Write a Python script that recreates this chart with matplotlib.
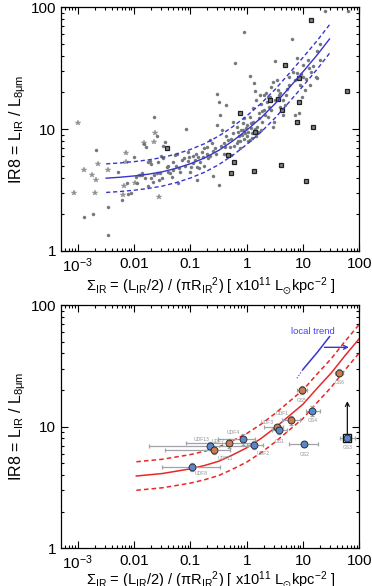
import numpy as np
import matplotlib
matplotlib.use('Agg')
import matplotlib.pyplot as plt
from matplotlib.ticker import LogLocator, NullFormatter, FixedLocator, FixedFormatter

plt.rcParams['font.family'] = ['Liberation Sans', 'DejaVu Sans']
plt.rcParams['mathtext.fontset'] = 'custom'
plt.rcParams['mathtext.rm'] = 'Liberation Sans'
plt.rcParams['mathtext.it'] = 'Liberation Sans'
plt.rcParams['mathtext.bf'] = 'Liberation Sans:bold'
plt.rcParams['mathtext.sf'] = 'Liberation Sans'
plt.rcParams['mathtext.default'] = 'regular'

# ---------------- top panel data (log10 values) -------------
dots_logsigma = [-2.67,-2.89,-2.72,-2.47,-2.47,-2.28,-2.0,-2.22,-2.13,-2.10,-2.06,-1.95,-1.92,-1.86,-1.85,
 -1.82,-1.78,-1.75,-1.72,-1.69,-1.64,-1.60,-1.60,-1.67,-1.75,-1.54,-1.48,-1.45,-1.48,-1.42,-1.39,-1.36,-1.33,
 -1.30,-1.27,-1.24,-1.21,-1.18,-1.15,-1.12,-1.07,-1.04,-1.02,-1.0,-0.98,-0.95,-0.92,-0.89,-0.86,-0.83,-0.80,
 -0.77,-0.75,-0.71,-0.68,-0.65,-0.62,-0.59,-0.56,-0.53,-0.52,-0.49,-0.50,-0.47,-0.44,-0.41,-0.38,-0.36,-0.36,
 -0.33,-0.30,-0.27,-0.24,-0.24,-0.05,-0.2,-0.18,-0.17,-0.15,-0.13,-0.12,-0.11,-0.09,-0.07,-0.06,-0.05,-0.03,
 -0.01,0.0,0.01,0.03,0.05,0.05,0.06,0.07,0.09,0.11,0.12,0.13,0.14,0.16,0.17,0.19,0.21,0.22,0.25,0.26,0.28,
 0.30,0.31,0.33,0.36,0.37,0.38,0.40,0.43,0.44,0.46,0.47,0.49,0.50,0.50,0.53,0.55,0.58,0.59,0.64,0.65,0.70,
 0.72,0.76,0.80,0.83,0.86,0.89,0.90,0.92,0.95,0.98,1.0,1.03,1.06,1.09,1.12,1.15,1.24,1.23,1.25,1.30,1.31,
 1.39,1.80,
 -1.96,-1.89,-1.80,-1.70,-1.65,-1.55,-1.50,-1.40,-1.58,-1.52,-1.30,-1.25,-1.10,-1.05,-0.95,-0.90,-0.85,-0.70,
 -0.65,-0.60,-0.55,-0.45,-0.40,-0.35,-0.28,-0.22,-0.15,-0.10,-0.05,0.02,0.08,0.10,0.15,0.20,0.24,0.27,0.35,
 0.42,0.60,0.68,0.75,0.85,0.96,1.00,1.10,1.18,-0.75,-0.88,-1.22]
dots_logir8 = [0.83,0.277,0.30,0.364,0.129,0.65,0.774,0.42,0.555,0.47,0.48,0.56,0.62,0.62,0.64,
 0.878,0.856,0.733,0.74,0.714,1.10,0.94,0.64,0.57,0.53,0.64,0.865,0.897,0.76,0.69,0.65,0.64,0.61,
 0.665,0.79,0.80,0.68,0.65,0.747,0.76,1.0,0.815,0.774,0.65,0.69,0.72,0.747,0.69,0.774,0.733,0.815,
 0.774,0.843,0.856,0.76,0.91,0.884,0.615,0.849,1.034,1.29,1.226,0.539,1.116,0.993,0.884,0.856,1.198,0.94,
 0.91,0.856,0.79,0.966,1.06,1.80,1.54,0.884,1.02,0.98,0.94,0.90,0.843,0.95,0.993,1.048,1.09,0.966,
 1.007,0.94,1.034,0.98,1.10,1.44,0.91,1.007,0.966,1.17,1.06,1.376,1.31,0.94,1.24,1.02,1.09,1.13,1.21,0.993,1.06,
 1.28,1.157,1.116,1.226,1.267,1.10,1.185,1.349,1.157,1.39,1.02,1.06,1.56,1.24,1.40,1.32,1.28,1.185,1.116,1.24,1.28,
 1.327,1.43,1.74,1.47,1.116,1.458,1.58,1.13,1.36,1.267,1.43,1.32,1.41,1.57,1.36,1.47,1.64,1.43,1.42,1.70,1.57,
 1.97,1.97,
 0.61,0.626,0.60,0.60,0.62,0.58,0.60,0.70,0.73,0.78,0.73,0.70,0.70,0.74,0.78,0.80,0.68,0.80,
 0.78,0.82,0.80,0.86,0.80,0.80,0.92,0.86,0.90,0.99,0.92,0.90,1.05,0.93,1.00,0.98,1.28,1.15,1.30,
 1.26,1.30,1.20,1.36,1.40,1.45,1.53,1.50,1.52,0.70,0.58,0.56]

stars_logsigma = [-2.99,-3.07,-2.89,-2.75,-2.67,-2.69,-2.64,-2.46,-2.15,-2.14,-2.17,-2.20,-1.64,-1.63,-1.82,-1.56,-1.98]
stars_logir8 = [1.048,0.48,0.665,0.62,0.583,0.48,0.71,0.665,0.807,0.733,0.533,0.46,0.897,0.966,0.884,0.446,0.558]

squares_logsigma = [-1.42,-0.34,-0.22,-0.28,-0.12,0.13,0.14,0.41,0.56,0.62,0.61,0.68,0.93,0.93,0.90,1.18,1.05,1.15,1.775]
squares_logir8 = [0.845,0.79,0.73,0.64,1.13,0.66,0.98,1.24,1.245,1.157,0.706,1.53,1.42,1.22,1.06,1.02,0.577,1.90,1.31]

# fitted local trend
top_fit_sigma = [0.0032, 0.0056, 0.01, 0.018, 0.032, 0.056, 0.1, 0.18, 0.32, 0.56, 1.0, 1.8, 3.2, 5.6, 10, 18, 29.5]
top_fit_ir8 = [3.96, 4.03, 4.13, 4.27, 4.47, 4.77, 5.20, 5.81, 6.70, 7.97, 9.80, 12.4, 16.2, 21.7, 29.6, 40.9, 54.9]
band_factor = 1.31

# ---------------- bottom panel data -------------
bot_fit_sigma = [0.011, 0.032, 0.1, 0.18, 0.32, 0.56, 1.0, 1.8, 3.2, 5.6, 10, 18, 32, 56, 100]
bot_fit_ir8 = [3.93, 4.12, 4.5, 4.8, 5.2, 5.85, 6.7, 8.0, 9.8, 12.2, 15.3, 20.8, 27.8, 38.5, 53]

names = ['UDF8','UDF13','UDF11','UDF7','UDF4','UDF2','UDF3','GS1','UDF1','GS5','GS4','GS2','GS6','GS3']
sigma = [0.108,0.223,0.263,0.486,0.87,1.35,3.41,3.80,6.05,9.6,14.6,10.5,44.2,61.2]
ir8 = [4.69,6.93,6.43,7.30,7.91,7.06,9.87,9.38,11.3,20.0,13.5,7.2,27.8,8.11]
sigma_lo = [0.032,0.0185,0.036,0.084,0.31,1.0,2.03,2.78,4.18,7.8,11.3,5.72,37,45.4]
sigma_hi = [0.336,1.31,0.506,1.30,1.4,1.98,4.48,5.13,8.85,11.6,20,18.7,52,83.8]
ir8_err_frac = [0.07,0.08,0.08,0.08,0.10,0.08,0.07,0.08,0.08,0.08,0.09,0.06,0.07,0.05]
kind = ['b','b','o','o','b','b','o','b','o','o','b','b','o','b']
label_off = [(9,7),(-8,-7),(11,9),(-11,-2),(-10,-7),(9,8),(-10,-5),(0,11),(-9,-7),(0,10),(0,10),(0,10),(0,10),(0,10)]
gs3_lower_limit_top = 17.1
arrow_y = 44.9
arrow_x = [21.4, 73]

xticks = [1e-3, 1e-2, 1e-1, 1, 10, 100]
xticklabels = ['$10^{-3}$', '0.01', '0.1', '1', '10', '100']
yticks = [1, 10, 100]
yticklabels = ['1', '10', '100']

fig = plt.figure(figsize=(3.72, 5.86), dpi=100)
ax1 = fig.add_axes([0.164, 0.5717, 0.802, 0.4158])
ax2 = fig.add_axes([0.164, 0.0643, 0.802, 0.4152])

xlabel = r'$\Sigma_{IR}$ = (L$_{IR}$/2) / ($\pi$R$_{IR}$$^{2}$) [ x10$^{11}$ L$_{\odot}$kpc$^{-2}$ ]'
ylabel = r'IR8 = L$_{IR}$ / L$_{8\mu m}$'

for ax, lp in ((ax1, 0), (ax2, -2.5)):
    ax.set_xscale('log'); ax.set_yscale('log')
    ax.set_xlim(10**-3.296, 100); ax.set_ylim(1, 100)
    ax.xaxis.set_major_locator(FixedLocator(xticks))
    ax.xaxis.set_major_formatter(FixedFormatter(xticklabels))
    ax.yaxis.set_major_locator(FixedLocator(yticks))
    ax.yaxis.set_major_formatter(FixedFormatter(yticklabels))
    ax.xaxis.set_minor_locator(LogLocator(base=10, subs=np.arange(2, 10), numticks=100))
    ax.yaxis.set_minor_locator(LogLocator(base=10, subs=np.arange(2, 10), numticks=100))
    ax.xaxis.set_minor_formatter(NullFormatter()); ax.yaxis.set_minor_formatter(NullFormatter())
    ax.tick_params(which='both', direction='in', top=True, right=True, labelsize=11, width=0.8)
    ax.tick_params(which='major', length=5)
    ax.tick_params(which='minor', length=2.5)
    ax.tick_params(axis='x', which='major', pad=4)
    for s in ax.spines.values():
        s.set_linewidth(0.9)
    ax.set_xlabel(xlabel, fontsize=10.5, labelpad=lp)
    ax.set_ylabel(ylabel, fontsize=11.5, labelpad=2)

# top panel
blue = '#3535d0'
ax1.plot(10**np.array(stars_logsigma), 10**np.array(stars_logir8), ls='none', marker='*',
         ms=3.8, color='#909090', mec='#909090', mew=0.3, zorder=2)
ax1.plot(10**np.array(dots_logsigma), 10**np.array(dots_logir8), ls='none', marker='o',
         ms=2.2, color='#74787c', mec='#74787c', mew=0.3, zorder=2)
ax1.plot(10**np.array(squares_logsigma), 10**np.array(squares_logir8), ls='none', marker='s',
         ms=3.4, color='#808080', mec='#202020', mew=0.9, zorder=3)
tf = np.array(top_fit_ir8)
ax1.plot(top_fit_sigma, tf, color=blue, lw=1.0, zorder=4)
ax1.plot(top_fit_sigma, tf * band_factor, color=blue, lw=1.0, ls=(0, (3, 2)), zorder=4)
ax1.plot(top_fit_sigma, tf / band_factor, color=blue, lw=1.0, ls=(0, (3, 2)), zorder=4)

# bottom panel
red = '#e82828'
bf = np.array(bot_fit_ir8)
ax2.plot(bot_fit_sigma, bf, color=red, lw=1.1, zorder=2)
ax2.plot(bot_fit_sigma, bf * band_factor, color=red, lw=1.1, ls=(0, (3, 2)), zorder=2)
ax2.plot(bot_fit_sigma, bf / band_factor, color=red, lw=1.1, ls=(0, (3, 2)), zorder=2)

# local trend segment
seg = [i for i, s in enumerate(top_fit_sigma) if s >= 10]
ax2.plot([7.8, 10], [25.0, 29.6], color=blue, lw=0.8, ls=':', zorder=3)
ax2.plot([top_fit_sigma[i] for i in seg], [top_fit_ir8[i] for i in seg], color=blue, lw=1.1, zorder=3)
ax2.annotate('', xy=(arrow_x[1], arrow_y), xytext=(arrow_x[0], arrow_y),
             arrowprops=dict(arrowstyle='->', color=blue, lw=1.0, mutation_scale=7), zorder=3)
ax2.text(15.1, 61, 'local trend', color='#4444ee', fontsize=6.8, ha='center', va='center')

sig = np.array(sigma); y = np.array(ir8)
xerr = np.vstack([sig - np.array(sigma_lo), np.array(sigma_hi) - sig])
yerr = np.vstack([y * np.array(ir8_err_frac), y * np.array(ir8_err_frac)])
ax2.errorbar(sig, y, xerr=xerr, yerr=yerr, fmt='none', ecolor='#a0a4a8', elinewidth=0.9,
             capsize=1.2, capthick=0.9, zorder=4)
ax2.plot(sig[-1], y[-1], ls='none', marker='s', ms=6.3, mfc='none', mec='#111111', mew=1.0, zorder=5)
ax2.annotate('', xy=(sig[-1], gs3_lower_limit_top), xytext=(sig[-1], y[-1]),
             arrowprops=dict(arrowstyle='->', color='#111111', lw=0.9, mutation_scale=7), zorder=5)
for n, sx, sy, k, (dx, dy) in zip(names, sigma, ir8, kind, label_off):
    ax2.annotate(n, (sx, sy), xytext=(dx * 0.72, -dy * 0.72), textcoords='offset points',
                 fontsize=3.6, color='#8e9296', ha='center', va='center', zorder=4.5)
    c = '#5b88cc' if k == 'b' else '#c87c50'
    ax2.plot(sx, sy, ls='none', marker='o', ms=5.0, mfc=c, mec='#202020', mew=0.6, zorder=6)

fig.savefig('out.png', dpi=100)
